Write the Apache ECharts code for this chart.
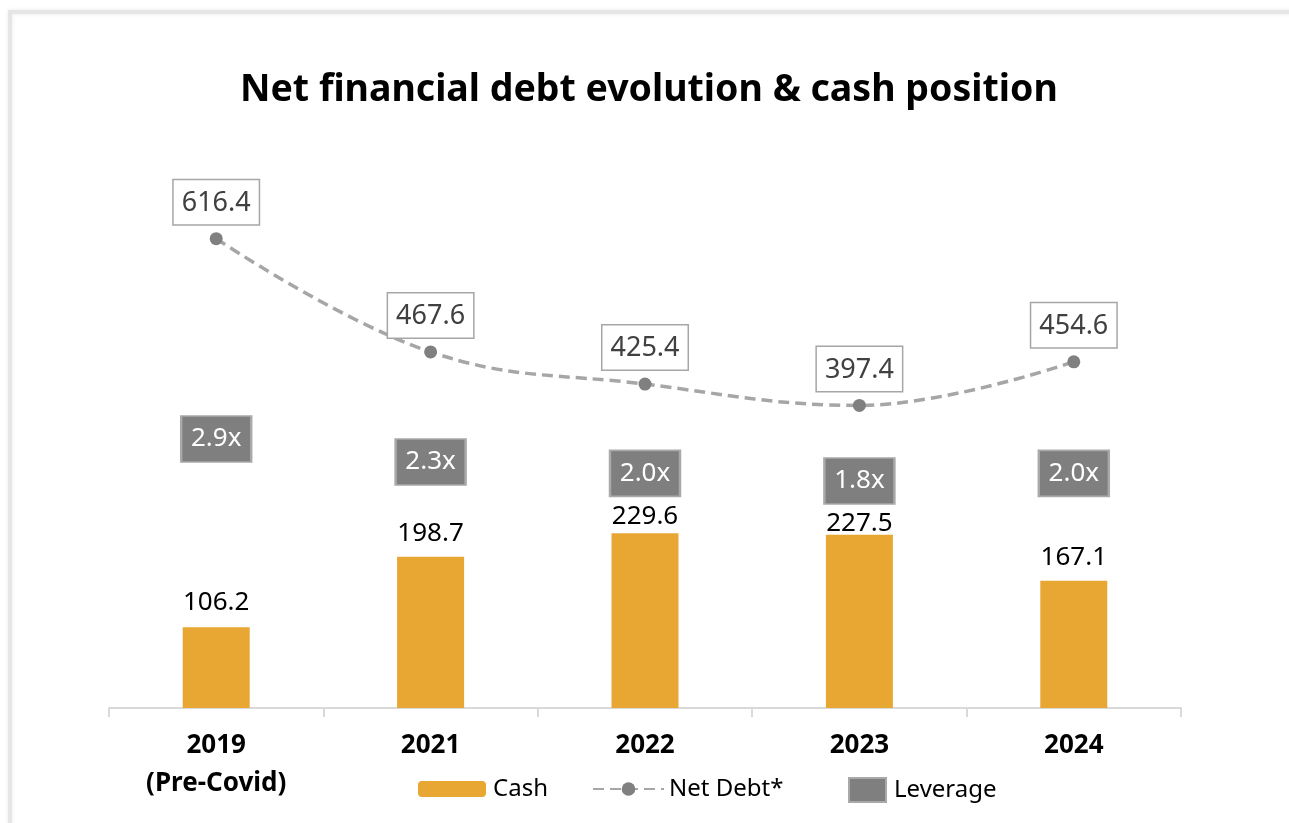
<!DOCTYPE html>
<html>
<head>
<meta charset="utf-8">
<script src="https://cdn.jsdelivr.net/npm/echarts@6/dist/echarts.min.js"></script>
<style>
  html, body { margin: 0; padding: 0; background: #fff; }
  #main { width: 1289px; height: 823px; }
</style>
</head>
<body>
<div id="main"></div>
<script>
// chart data
var years = ['2019\n(Pre-Covid)', '2021', '2022', '2023', '2024'];
var cash = [106.2, 198.7, 229.6, 227.5, 167.1];
var netDebt = [616.4, 467.6, 425.4, 397.4, 454.6];
var leverage = [2.9, 2.3, 2.0, 1.8, 2.0];

var FONT = 'Noto Sans';
// bar labels squeezed under leverage boxes
var cashLabelDist = [12, 10, 4, -2, 10];

var chart = echarts.init(document.getElementById('main'));

var option = {
  animation: false,
  textStyle: { fontFamily: FONT },
  title: {
    text: 'Net financial debt evolution & cash position',
    left: 240,
    top: 71,
    padding: 0,
    textStyle: { fontFamily: FONT, fontSize: 37.5, fontWeight: 'bold', color: '#000' }
  },
  graphic: [{
    type: 'rect',
    z: -10,
    shape: { x: 10, y: 12, width: 1400, height: 900 },
    style: { fill: 'none', stroke: '#e6e6e6', lineWidth: 4, shadowBlur: 4, shadowColor: 'rgba(0,0,0,0.08)' }
  }],
  legend: [{
    data: ['Cash'],
    left: 418, top: 777, padding: 0,
    itemWidth: 68, itemHeight: 16, itemGap: 0,
    textStyle: { fontFamily: FONT, fontSize: 24, color: '#000', padding: [0, 0, 0, 2] }
  }, {
    data: ['Net Debt*'],
    left: 592, top: 777, padding: 0,
    itemWidth: 71, itemHeight: 17,
    textStyle: { fontFamily: FONT, fontSize: 24, color: '#000', padding: [0, 0, 0, 0] }
  }, {
    data: ['Leverage'],
    left: 848, top: 777, padding: 0,
    itemWidth: 37, itemHeight: 24, itemGap: 0,
    textStyle: { fontFamily: FONT, fontSize: 24, color: '#000', padding: [0, 0, 0, 3] }
  }],
  grid: { left: 109, right: 108, top: 175, bottom: 115 },
  xAxis: {
    type: 'category',
    data: years,
    axisLine: { lineStyle: { color: '#d9d9d9', width: 2 } },
    axisTick: { show: true, length: 9, lineStyle: { color: '#d9d9d9', width: 2 } },
    axisLabel: {
      margin: 19,
      fontFamily: FONT, fontSize: 26, fontWeight: 'bold', color: '#000', lineHeight: 38
    }
  },
  yAxis: [
    { type: 'value', min: 0, max: 700, show: false },
    { type: 'value', min: -4.14, max: 9.81, show: false }
  ],
  series: [{
    name: 'Cash',
    type: 'bar',
    barWidth: 67,
    itemStyle: { color: '#E8A733' },
    data: cash.map(function (v, i) {
      return { value: v, label: { distance: cashLabelDist[i] } };
    }),
    label: {
      show: true,
      position: 'top',
      fontFamily: FONT, fontSize: 26, color: '#000',
      formatter: function (p) { return p.value.toFixed(1); }
    }
  }, {
    name: 'Net Debt*',
    type: 'line',
    data: netDebt,
    smooth: 0.4,
    symbol: 'circle',
    symbolSize: 13,
    itemStyle: { color: '#808080' },
    lineStyle: { color: '#a6a6a6', width: 3.5, type: [11, 6] },
    label: {
      show: true,
      position: 'top',
      distance: 8,
      fontFamily: FONT, fontSize: 27, color: '#404040',
      backgroundColor: '#fff',
      borderColor: '#a6a6a6', borderWidth: 1.5,
      padding: [4, 8, 2, 8],
      lineHeight: 38,
      formatter: function (p) { return p.value.toFixed(1); }
    }
  }, {
    name: 'Leverage',
    type: 'scatter',
    yAxisIndex: 1,
    data: leverage,
    symbol: 'rect',
    symbolSize: [70, 46],
    itemStyle: { color: '#7f7f7f', borderColor: '#a9a9a9', borderWidth: 2, opacity: 1 },
    label: {
      show: true,
      position: 'inside',
      fontFamily: FONT, fontSize: 26, color: '#fff',
      formatter: function (p) { return p.value.toFixed(1) + 'x'; }
    },
    z: 5
  }]
};

chart.setOption(option);
</script>
</body>
</html>
